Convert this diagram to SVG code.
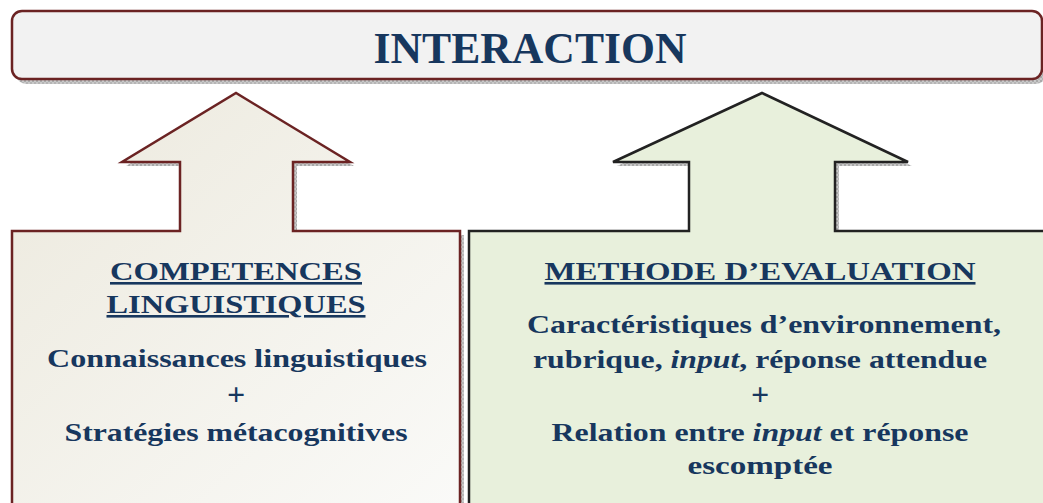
<svg xmlns="http://www.w3.org/2000/svg" width="1043" height="503" viewBox="0 0 1043 503">
  <defs>
    <pattern id="hatch" width="4" height="4" patternUnits="userSpaceOnUse">
      <rect width="4" height="4" fill="#c9c9c9"/>
      <rect width="2" height="2" fill="#a9a9a9"/>
      <rect x="2" y="2" width="2" height="2" fill="#b5b5b5"/>
    </pattern>
    <linearGradient id="gLeft" x1="0" y1="0" x2="1" y2="1">
      <stop offset="0" stop-color="#ece9dd"/>
      <stop offset="1" stop-color="#fafaf8"/>
    </linearGradient>
    <style>
      .shadow { fill: url(#hatch); stroke: none; }
      .t { font-family: "Liberation Serif", "Times New Roman", serif; font-weight: bold; fill: #17375e; text-anchor: middle; }
      .h { font-size: 26px; text-decoration: underline; }
      .b { font-size: 26px; }
      .p { font-size: 32px; }
      .i { font-style: italic; }
    </style>
  </defs>

  <rect width="1043" height="503" fill="#ffffff"/>

  <g id="interaction">
    <rect class="shadow" x="16" y="15" width="1030" height="69" rx="10"/>
    <rect x="12" y="11" width="1030" height="68" rx="10" fill="#f2f2f2" stroke="#6b2323" stroke-width="2.5"/>
    <text class="t" x="530" y="63" font-size="44" textLength="313" lengthAdjust="spacingAndGlyphs">INTERACTION</text>
  </g>

  <g id="competences">
    <path class="shadow" d="M16,235 H184 V166 H126 L240,97 L354,166 H297 V235 H464 V515 H16 Z"/>
    <path d="M12,231 H180 V162 H122 L236,93 L350,162 H293 V231 H460 V512 H12 Z" fill="url(#gLeft)" stroke="#6b2323" stroke-width="2.5" stroke-linejoin="miter"/>
    <text class="t h" x="236" y="280" textLength="252" lengthAdjust="spacingAndGlyphs">COMPETENCES</text>
    <text class="t h" x="236" y="313" textLength="259" lengthAdjust="spacingAndGlyphs">LINGUISTIQUES</text>
    <text class="t b" x="237" y="367" textLength="380" lengthAdjust="spacingAndGlyphs">Connaissances linguistiques</text>
    <text class="t p" x="236" y="405">+</text>
    <text class="t b" x="236" y="441" textLength="343" lengthAdjust="spacingAndGlyphs">Stratégies métacognitives</text>
  </g>

  <g id="methode">
    <path class="shadow" d="M473,235 H693 V166 H617 L766,97 L912,166 H839 V235 H1055 V515 H473 Z"/>
    <path d="M469,231 H689 V162 H613 L762,93 L908,162 H835 V231 H1052 V512 H469 Z" fill="#e8f0dc" stroke="#222222" stroke-width="2.5" stroke-linejoin="miter"/>
    <text class="t h" x="760" y="280" textLength="431" lengthAdjust="spacingAndGlyphs">METHODE D’EVALUATION</text>
    <text class="t b" x="764" y="333" textLength="474" lengthAdjust="spacingAndGlyphs">Caractéristiques d’environnement,</text>
    <text class="t b" x="760" y="368" textLength="454" lengthAdjust="spacingAndGlyphs">rubrique, <tspan class="i">input</tspan>, réponse attendue</text>
    <text class="t p" x="760" y="405">+</text>
    <text class="t b" x="760" y="441" textLength="417" lengthAdjust="spacingAndGlyphs">Relation entre <tspan class="i">input</tspan> et réponse</text>
    <text class="t b" x="760" y="474" textLength="145" lengthAdjust="spacingAndGlyphs">escomptée</text>
  </g>

  <g id="connectors"></g>
</svg>
